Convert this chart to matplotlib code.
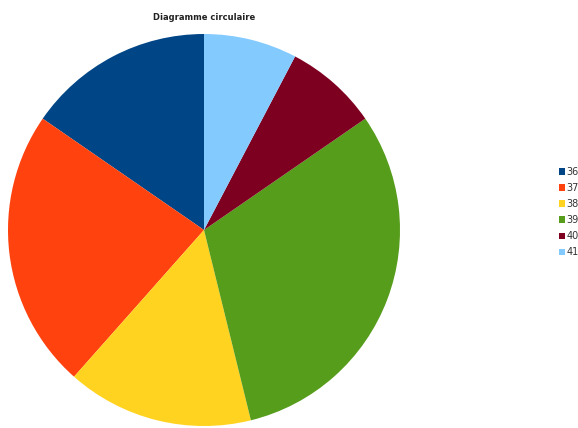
import matplotlib.pyplot as plt
from matplotlib.patches import Patch

labels = ['36', '37', '38', '39', '40', '41']
values = [2, 3, 2, 4, 1, 1]
colors = ['#004586', '#ff420e', '#ffd320', '#579d1c', '#7e0021', '#83caff']

fig = plt.figure(figsize=(5.78, 4.28), dpi=100)
W, H = 578, 428
cx, cy, r = 204, 230, 196
ax = fig.add_axes([(cx - r) / W, (H - cy - r) / H, 2 * r / W, 2 * r / H])
ax.pie(values, colors=colors, startangle=90, counterclock=True, radius=1)
ax.set_xlim(-1, 1)
ax.set_ylim(-1, 1)
ax.set_aspect('equal')
ax.axis('off')

fig.text(204 / W, 1 - 17 / H, 'Diagramme circulaire', ha='center', va='center',
         fontsize=6, fontweight='bold', color='#222222')

handles = [Patch(facecolor=c, edgecolor='none') for c in colors]
leg = fig.legend(handles, labels, loc='center left', bbox_to_anchor=(554 / W, 1 - 212 / H),
                 frameon=False, fontsize=7, handlelength=0.6, handleheight=0.6,
                 handletextpad=0.2, labelspacing=0.62, borderpad=0)
for t in leg.get_texts():
    t.set_color('#333333')

fig.savefig('out.png', dpi=100)
